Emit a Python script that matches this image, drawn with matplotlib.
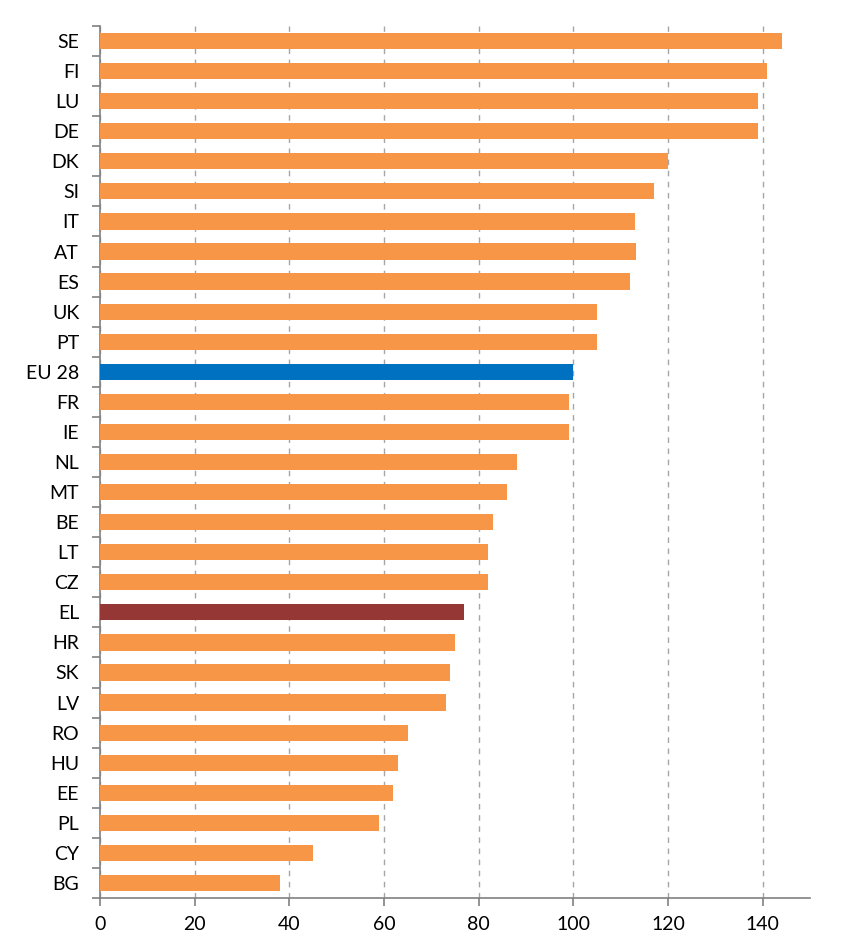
import matplotlib
matplotlib.use('Agg')
import matplotlib.pyplot as plt
import numpy as np

plt.rcParams['font.family'] = ['Lato', 'DejaVu Sans']

# countries, top to bottom
countries = ['SE', 'FI', 'LU', 'DE', 'DK', 'SI', 'IT', 'AT', 'ES', 'UK', 'PT',
             'EU 28', 'FR', 'IE', 'NL', 'MT', 'BE', 'LT', 'CZ', 'EL', 'HR',
             'SK', 'LV', 'RO', 'HU', 'EE', 'PL', 'CY', 'BG']
values = [144, 141, 139, 139, 120, 117, 113, 113.3, 112, 105, 105,
          100, 99, 99, 88, 86, 83, 82, 82, 77, 75,
          74, 73, 65, 63, 62, 59, 45, 38]
xticks = [0, 20, 40, 60, 80, 100, 120, 140]

orange = '#F79646'
special = {'EU 28': '#0070C0', 'EL': '#953735'}
colors = [special.get(c, orange) for c in countries]

fig = plt.figure(figsize=(8.41, 9.47), dpi=100)
ax = fig.add_axes([100 / 841, 49 / 947, 710 / 841, 872 / 947])

y = np.arange(len(countries))[::-1]
ax.barh(y, values, height=0.54, color=colors, zorder=3)

ax.set_xlim(0, 150)
ax.set_ylim(-0.5, len(countries) - 0.5)
ax.set_xticks(xticks)
ax.set_yticks(y)
ax.set_yticklabels(countries)
ax.set_yticks(np.arange(len(countries) + 1) - 0.5, minor=True)

ax.grid(axis='x', color='#A6A6A6', linestyle=(0, (4, 4)), linewidth=1, zorder=0)
ax.grid(axis='y', visible=False)

for s in ['top', 'right']:
    ax.spines[s].set_visible(False)
for s in ['left', 'bottom']:
    ax.spines[s].set_color('#808080')
    ax.spines[s].set_linewidth(1.2)

ax.tick_params(axis='y', which='major', length=0, pad=15, labelsize=14)
ax.tick_params(axis='y', which='minor', length=6, color='#808080', width=1.2)
ax.tick_params(axis='x', length=6, color='#808080', width=1.2, labelsize=14, pad=7)

fig.savefig('out.png', dpi=100)
